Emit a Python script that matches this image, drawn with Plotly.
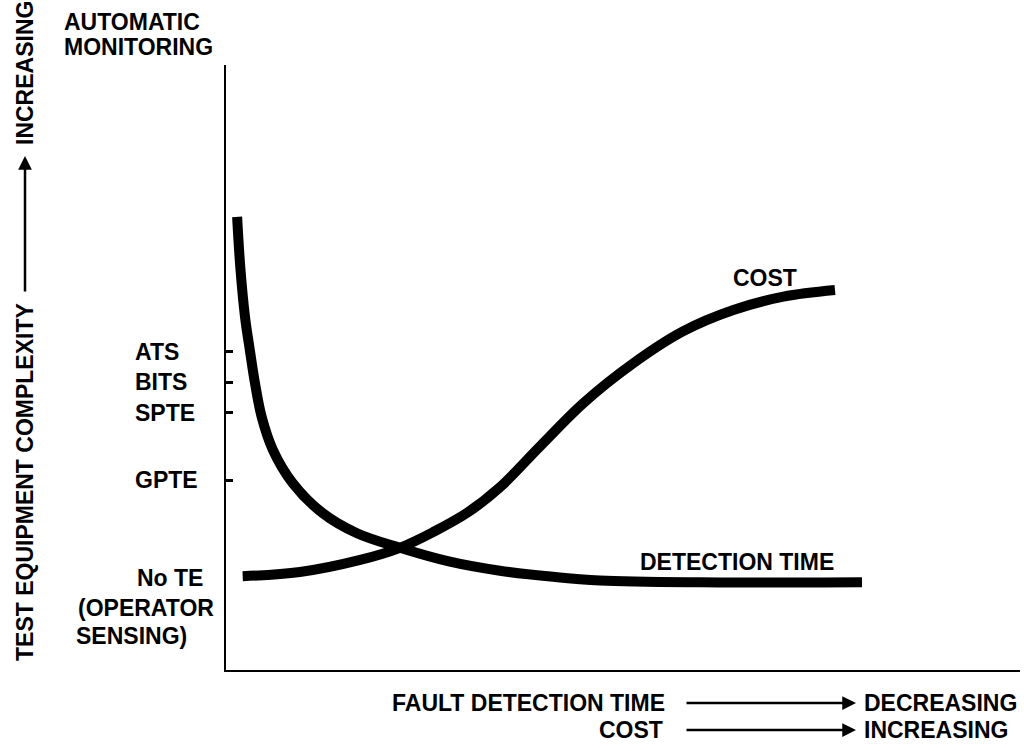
import plotly.graph_objects as go

# Fault detection time and cost against test equipment complexity
detect_x = [1.4, 1.8, 2.4, 3.0, 3.65, 4.5, 5.9, 8.4, 12.2, 16.5, 21.9, 28.2, 34.5, 41.2, 47.1, 59.7, 80.1]
detect_y = [74.9, 66.6, 58.3, 52.9, 47.4, 41.8, 36.4, 30.9, 25.9, 22.6, 20.2, 17.9, 16.4, 15.4, 14.8, 14.5, 14.5]

cost_x = [2.1, 9.3, 16.9, 21.9, 26.1, 30.4, 34.5, 39.5, 45.0, 51.3, 57.6, 63.9, 70.2, 76.7]
cost_y = [15.5, 16.2, 18.2, 20.2, 22.8, 26.0, 30.2, 36.9, 44.1, 50.7, 56.0, 59.5, 61.7, 62.8]

# Equipment levels marked on the vertical axis
level_names = ["ATS", "BITS", "SPTE", "GPTE"]
level_vals = [52.6, 47.6, 42.5, 31.4]

curve_labels = ["COST", "DETECTION TIME"]

W, H = 1024, 751
L, R, T, B = 226, 4, 65, 81
PW, PH = W - L - R, H - T - B


def px(x):
    return (x - L) / PW


def py(y):
    return (T + PH - y) / PH


FONT = dict(family="Liberation Sans, Arial, sans-serif", size=23, color="black", weight="bold")

fig = go.Figure()
fig.add_trace(go.Scatter(x=detect_x, y=detect_y, mode="lines",
                         line=dict(color="black", width=10, shape="spline", smoothing=1.0),
                         hoverinfo="skip", showlegend=False))
fig.add_trace(go.Scatter(x=cost_x, y=cost_y, mode="lines",
                         line=dict(color="black", width=10, shape="spline", smoothing=1.0),
                         hoverinfo="skip", showlegend=False))

ann = []
# level labels beside the axis ticks
for name, v in zip(level_names, level_vals):
    ann.append(dict(text=name, x=px(133), y=v, xref="paper", yref="y",
                    xanchor="left", yanchor="middle", showarrow=False))

ann += [
    dict(text="No TE", x=px(135), y=py(578), xanchor="left"),
    dict(text="(OPERATOR", x=px(216), y=py(608), xanchor="right"),
    dict(text="SENSING)", x=px(189), y=py(636), xanchor="right"),
    dict(text="AUTOMATIC", x=px(62), y=py(22), xanchor="left"),
    dict(text="MONITORING", x=px(62), y=py(47), xanchor="left"),
    # curve names
    dict(text=curve_labels[0], x=px(765), y=py(278), xanchor="center"),
    dict(text=curve_labels[1], x=px(737), y=py(562), xanchor="center"),
    # horizontal axis legend
    dict(text="FAULT DETECTION TIME", x=px(667), y=py(703), xanchor="right"),
    dict(text="DECREASING", x=px(862), y=py(703), xanchor="left"),
    dict(text="COST", x=px(665), y=py(730), xanchor="right"),
    dict(text="INCREASING", x=px(862), y=py(730), xanchor="left"),
    # vertical axis title
    dict(text="TEST EQUIPMENT COMPLEXITY", x=px(25), y=py(663), xanchor="center",
         yanchor="bottom", textangle=-90),
    dict(text="INCREASING", x=px(25), y=py(147), xanchor="center",
         yanchor="bottom", textangle=-90),
]
for a in ann:
    a.setdefault("xref", "paper")
    a.setdefault("yref", "paper")
    a.setdefault("yanchor", "middle")
    a.setdefault("showarrow", False)

# arrows
arrow = dict(text="", xref="paper", yref="paper", showarrow=True, arrowhead=2,
             arrowsize=1.1, arrowwidth=2.5, arrowcolor="black", standoff=0, startstandoff=0)
ann.append(dict(arrow, x=px(856), y=py(703), ax=685 - 856, ay=0))
ann.append(dict(arrow, x=px(856), y=py(730), ax=685 - 856, ay=0))
ann.append(dict(arrow, x=px(25), y=py(156), ax=0, ay=293 - 156))

fig.update_layout(
    width=W, height=H,
    margin=dict(l=L, r=R, t=T, b=B, pad=0),
    paper_bgcolor="white", plot_bgcolor="white",
    font=FONT,
    annotations=ann,
    showlegend=False,
    xaxis=dict(range=[0, 100], showline=True, linecolor="black", linewidth=2,
               showgrid=False, zeroline=False, showticklabels=False, ticks=""),
    yaxis=dict(range=[0, 100], showline=True, linecolor="black", linewidth=2,
               showgrid=False, zeroline=False, showticklabels=False,
               tickmode="array", tickvals=level_vals, ticks="inside",
               ticklen=7, tickwidth=3, tickcolor="black"),
)

fig.write_html("out.html", config={"displayModeBar": False})
